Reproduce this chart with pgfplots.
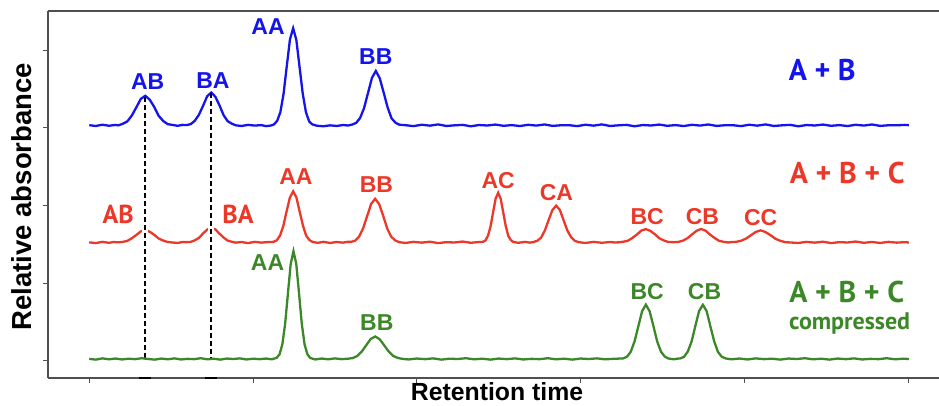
\documentclass[border=0pt]{standalone}
\usepackage{pgfplots}
\pgfplotsset{compat=1.18}
\usepackage{fontspec}
\setmainfont{Liberation Sans}
\newfontfamily\myriad{PT Sans}
\definecolor{cblue}{RGB}{20,20,235}
\definecolor{cred}{RGB}{236,56,40}
\definecolor{cgreen}{RGB}{60,135,40}
\definecolor{axgray}{RGB}{80,80,80}
\newcommand{\pk}{\fontsize{23}{23}\selectfont\bfseries}
\begin{document}
\begin{tikzpicture}
\begin{axis}[
  name=ax, at={(0,0)}, anchor=south west,
  scale only axis, width=891pt, height=367pt,
  xmin=-2.52, xmax=51.89, ymin=-2.225, ymax=45.02,
  clip=false,
  axis x line*=box, axis y line*=left,
  axis line style={axgray, line width=1.6pt},
  xtick={0,10,20,30,40,50}, ytick={0,10,20,30,40},
  xticklabels={}, yticklabels={},
  xtick pos=bottom, ytick pos=left,
  tick align=outside, major tick length=5pt,
  tick style={axgray, line width=0.9pt},
]
% blue: A + B
\addplot[cblue, line width=2.3pt] coordinates {
(0,30.32) (0.4,30.22) (0.8,30.38) (1.2,30.25) (1.6,30.35)
(1.77,30.30) (2.045,30.50) (2.32,30.80) (2.595,31.55) (2.87,32.60) (3.145,33.70) (3.42,34.10) (3.695,33.60) (3.97,32.65) (4.245,31.50) (4.52,30.85) (4.795,30.45) (5.07,30.36)
(5.4,30.24) (5.7,30.36)
(5.95,30.33) (6.2,30.46) (6.45,30.90) (6.7,31.68) (6.95,32.82) (7.2,34.05) (7.45,34.52) (7.7,33.98) (7.95,32.88) (8.2,31.62) (8.45,30.84) (8.7,30.52) (8.95,30.30)
(9.3,30.22) (9.7,30.36) (10.1,30.27) (10.5,30.33) (10.8,30.20) (11.1,30.28)
(11.28,30.42) (11.475,30.88) (11.67,32.00) (11.865,34.36) (12.06,37.90) (12.255,41.35) (12.45,42.80) (12.645,41.30) (12.84,37.85) (13.035,34.40) (13.23,32.00) (13.425,30.82) (13.62,30.42)
(13.9,30.25) (14.3,30.18) (14.7,30.30) (15.1,30.22) (15.5,30.34) (15.8,30.28)
(16.06,30.40) (16.30,30.62) (16.54,31.25) (16.78,32.52) (17.02,34.45) (17.26,36.40) (17.5,37.30) (17.74,36.35) (17.98,34.50) (18.22,32.60) (18.46,31.20) (18.70,30.64) (18.94,30.38)
(19.3,30.32) (19.8,30.20) (20.3,30.38) (20.8,30.26) (21.3,30.42) (21.8,30.22) (22.3,30.30) (22.8,30.36) (23.3,30.18) (23.8,30.34)
(24.3,30.28) (24.8,30.40) (25.3,30.24) (25.8,30.33) (26.3,30.21) (26.8,30.37) (27.3,30.27) (27.8,30.41) (28.3,30.23) (28.8,30.31)
(29.3,30.32) (29.8,30.20) (30.3,30.38) (30.8,30.26) (31.3,30.42) (31.8,30.22) (32.3,30.30) (32.8,30.36) (33.3,30.18) (33.8,30.34)
(34.3,30.28) (34.8,30.40) (35.3,30.24) (35.8,30.33) (36.3,30.21) (36.8,30.37) (37.3,30.27) (37.8,30.41) (38.3,30.23) (38.8,30.31)
(39.3,30.32) (39.8,30.20) (40.3,30.38) (40.8,30.26) (41.3,30.42) (41.8,30.22) (42.3,30.30) (42.8,30.36) (43.3,30.18) (43.8,30.34)
(44.3,30.28) (44.8,30.40) (45.3,30.24) (45.8,30.33) (46.3,30.21) (46.8,30.37) (47.3,30.27) (47.8,30.41) (48.3,30.23) (48.8,30.31)
(49.3,30.30) (49.8,30.36) (50.05,30.32)
};
% red: A + B + C
\addplot[cred, line width=2.3pt] coordinates {
(0,15.24) (0.4,15.14) (0.8,15.30) (1.2,15.18) (1.5,15.28)
(1.77,15.24) (2.045,15.30) (2.32,15.42) (2.595,15.76) (2.87,16.18) (3.145,16.64) (3.42,16.82) (3.695,16.60) (3.97,16.20) (4.245,15.72) (4.52,15.46) (4.795,15.28) (5.07,15.22)
(5.4,15.16) (5.7,15.28)
(5.95,15.26) (6.2,15.30) (6.45,15.50) (6.7,15.82) (6.95,16.38) (7.2,16.88) (7.45,17.12) (7.7,16.90) (7.95,16.36) (8.2,15.86) (8.45,15.46) (8.7,15.32) (8.95,15.20)
(9.3,15.28) (9.7,15.14) (10.1,15.30) (10.5,15.20) (10.8,15.26)
(11.25,15.30) (11.45,15.50) (11.65,16.12) (11.85,17.34) (12.05,19.22) (12.25,21.00) (12.45,21.80) (12.65,21.02) (12.85,19.18) (13.05,17.38) (13.25,16.08) (13.45,15.52) (13.65,15.28)
(13.95,15.18) (14.3,15.30) (14.7,15.16) (15.1,15.28) (15.5,15.20) (15.75,15.30)
(15.99,15.30) (16.235,15.45) (16.48,15.98) (16.725,17.06) (16.97,18.62) (17.215,20.20) (17.46,20.84) (17.705,20.16) (17.95,18.64) (18.195,17.02) (18.44,15.96) (18.685,15.48) (18.93,15.26)
(19.3,15.16) (19.8,15.30) (20.3,15.20) (20.8,15.32) (21.3,15.14) (21.8,15.26) (22.3,15.22) (22.8,15.34) (23.3,15.18) (23.8,15.28)
(24.04,15.30) (24.195,15.48) (24.35,16.10) (24.505,17.28) (24.66,19.10) (24.815,20.86) (24.97,21.62) (25.125,20.84) (25.28,19.08) (25.435,17.32) (25.59,16.06) (25.745,15.52) (25.9,15.28)
(26.2,15.18) (26.6,15.30) (26.9,15.20)
(27.13,15.28) (27.36,15.44) (27.59,15.84) (27.82,16.76) (28.05,18.10) (28.28,19.38) (28.51,19.96) (28.74,19.40) (28.97,18.06) (29.2,16.74) (29.43,15.88) (29.66,15.42) (29.89,15.26)
(30.3,15.16) (30.8,15.30) (31.3,15.18) (31.8,15.28) (32.1,15.22)
(32.34,15.24) (32.615,15.32) (32.89,15.44) (33.165,15.80) (33.44,16.24) (33.715,16.76) (33.99,16.94) (34.265,16.72) (34.54,16.28) (34.815,15.76) (35.09,15.48) (35.365,15.28)
(35.71,15.26) (35.985,15.30) (36.26,15.46) (36.535,15.78) (36.81,16.26) (37.085,16.72) (37.36,16.96) (37.635,16.74) (37.91,16.24) (38.185,15.80) (38.46,15.44) (38.735,15.30) (39.01,15.22)
(39.25,15.28)
(39.5,15.30) (39.8,15.44) (40.1,15.72) (40.4,16.14) (40.7,16.58) (41.0,16.78) (41.3,16.56) (41.6,16.16) (41.9,15.70) (42.2,15.44) (42.5,15.26) (42.8,15.22)
(43.3,15.16) (43.8,15.30) (44.3,15.20) (44.8,15.32) (45.3,15.14) (45.8,15.26) (46.3,15.22) (46.8,15.34) (47.3,15.18) (47.8,15.28)
(48.3,15.16) (48.8,15.30) (49.3,15.20) (49.8,15.26) (50.05,15.22)
};
% white gaps where the dashed lines cross the red trace
\addplot[white, line width=6pt] coordinates {(3.42,14.3) (3.42,18.2)};
\addplot[white, line width=6pt] coordinates {(7.45,14.3) (7.45,18.4)};
% dashed guide lines
\addplot[black, line width=1.8pt, dash pattern=on 5pt off 3pt] coordinates {(3.42,34.0) (3.42,0.4)};
\addplot[black, line width=1.8pt, dash pattern=on 5pt off 3pt] coordinates {(7.45,34.4) (7.45,0.4)};
% marks on the time axis below the guide lines
\addplot[black, line width=2pt] coordinates {(3.05,-2.225) (3.8,-2.225)};
\addplot[black, line width=2pt] coordinates {(7.05,-2.225) (7.8,-2.225)};
% green: A + B + C compressed
\addplot[cgreen, line width=2.3pt] coordinates {
(0,0.24) (0.4,0.14) (0.8,0.30) (1.2,0.18) (1.6,0.28) (2.0,0.16) (2.4,0.26) (2.8,0.20) (3.2,0.32) (3.6,0.22)
(4.0,0.14) (4.4,0.28) (4.8,0.18) (5.2,0.30) (5.6,0.16) (6.0,0.24) (6.4,0.20) (6.8,0.32) (7.2,0.18) (7.6,0.26)
(8.0,0.14) (8.4,0.28) (8.8,0.22) (9.2,0.30) (9.6,0.16) (10.0,0.26) (10.4,0.20) (10.8,0.28) (11.15,0.18)
(11.45,0.38) (11.62,0.82) (11.79,2.10) (11.96,4.74) (12.13,8.62) (12.30,12.46) (12.47,14.10) (12.64,12.48) (12.81,8.66) (12.98,4.72) (13.15,2.08) (13.32,0.84) (13.49,0.36)
(13.8,0.16) (14.2,0.28) (14.6,0.18) (15.0,0.30) (15.4,0.20)
(15.81,0.26) (16.085,0.34) (16.36,0.60) (16.635,1.16) (16.91,1.98) (17.185,2.80) (17.46,3.12) (17.735,2.76) (18.01,1.98) (18.285,1.18) (18.56,0.62) (18.835,0.36) (19.11,0.24)
(19.5,0.16) (20.0,0.28) (20.5,0.20) (21.0,0.30) (21.5,0.14) (22.0,0.26) (22.5,0.22) (23.0,0.32) (23.5,0.18) (24.0,0.26)
(24.5,0.14) (25.0,0.28) (25.5,0.20) (26.0,0.30) (26.5,0.16) (27.0,0.24) (27.5,0.20) (28.0,0.32) (28.5,0.18) (29.0,0.26)
(29.5,0.14) (30.0,0.28) (30.5,0.22) (31.0,0.30) (31.5,0.18) (32.0,0.24)
(32.61,0.30) (32.84,0.52) (33.07,1.16) (33.30,2.50) (33.53,4.44) (33.76,6.38) (33.99,7.22) (34.22,6.36) (34.45,4.46) (34.68,2.48) (34.91,1.18) (35.14,0.54) (35.37,0.28)
(35.7,0.18) (35.9,0.26)
(36.09,0.30) (36.32,0.50) (36.55,1.18) (36.78,2.46) (37.01,4.46) (37.24,6.40) (37.47,7.20) (37.70,6.38) (37.93,4.42) (38.16,2.50) (38.39,1.14) (38.62,0.52) (38.85,0.30)
(39.2,0.18) (39.7,0.28) (40.2,0.16) (40.7,0.30) (41.2,0.20) (41.7,0.26) (42.2,0.14) (42.7,0.28) (43.2,0.22) (43.7,0.32)
(44.2,0.18) (44.7,0.26) (45.2,0.14) (45.7,0.28) (46.2,0.20) (46.7,0.30) (47.2,0.16) (47.7,0.24) (48.2,0.20) (48.7,0.32)
(49.2,0.18) (49.7,0.26) (50.05,0.22)
};
% peak labels: blue
\node[cblue, anchor=base] at (axis cs:3.57,34.86) {\pk AB};
\node[cblue, anchor=base] at (axis cs:7.55,35.07) {\pk BA};
\node[cblue, anchor=base] at (axis cs:10.92,41.93) {\pk AA};
\node[cblue, anchor=base] at (axis cs:17.5,38.07) {\pk BB};
% peak labels: red
\node[cred, anchor=base] at (axis cs:1.76,17.62) {\myriad\fontsize{26}{26}\selectfont\bfseries AB};
\node[cred, anchor=base] at (axis cs:9.08,17.62) {\myriad\fontsize{26}{26}\selectfont\bfseries BA};
\node[cred, anchor=base] at (axis cs:12.62,22.64) {\pk AA};
\node[cred, anchor=base] at (axis cs:17.54,21.65) {\pk BB};
\node[cred, anchor=base] at (axis cs:24.97,22.21) {\pk AC};
\node[cred, anchor=base] at (axis cs:28.53,20.62) {\pk CA};
\node[cred, anchor=base] at (axis cs:34.07,17.58) {\pk BC};
\node[cred, anchor=base] at (axis cs:37.44,17.58) {\pk CB};
\node[cred, anchor=base] at (axis cs:41.0,17.40) {\pk CC};
% peak labels: green
\node[cgreen, anchor=base] at (axis cs:10.89,11.58) {\pk AA};
\node[cgreen, anchor=base] at (axis cs:17.56,3.86) {\pk BB};
\node[cgreen, anchor=base] at (axis cs:34.07,7.93) {\pk BC};
\node[cgreen, anchor=base] at (axis cs:37.57,7.93) {\pk CB};
% series names
\node[cblue, anchor=base] at (axis cs:44.76,36.05) {\myriad\fontsize{30}{30}\selectfont\bfseries A + B};
\node[cred, anchor=base] at (axis cs:46.29,22.85) {\myriad\fontsize{30}{30}\selectfont\bfseries A + B + C};
\node[cgreen, anchor=base] at (axis cs:46.26,7.50) {\myriad\fontsize{30}{30}\selectfont\bfseries A + B + C};
\node[cgreen, anchor=base] at (axis cs:46.43,3.99) {\myriad\fontsize{24}{24}\selectfont\bfseries compressed};
% axis labels
\node[anchor=base] at ([yshift=-22.3pt]axis description cs:0.504,0) {\fontsize{24.8}{24.8}\selectfont\bfseries Retention time};
\node[anchor=base, rotate=90] at ([xshift=-16pt]axis description cs:0,0.494) {\fontsize{27.5}{27.5}\selectfont\bfseries Relative absorbance};
\end{axis}
\pgfresetboundingbox
\useasboundingbox ([xshift=-48pt,yshift=-28pt]ax.south west) rectangle ([yshift=11pt]ax.north east);
\end{tikzpicture}
\end{document}
